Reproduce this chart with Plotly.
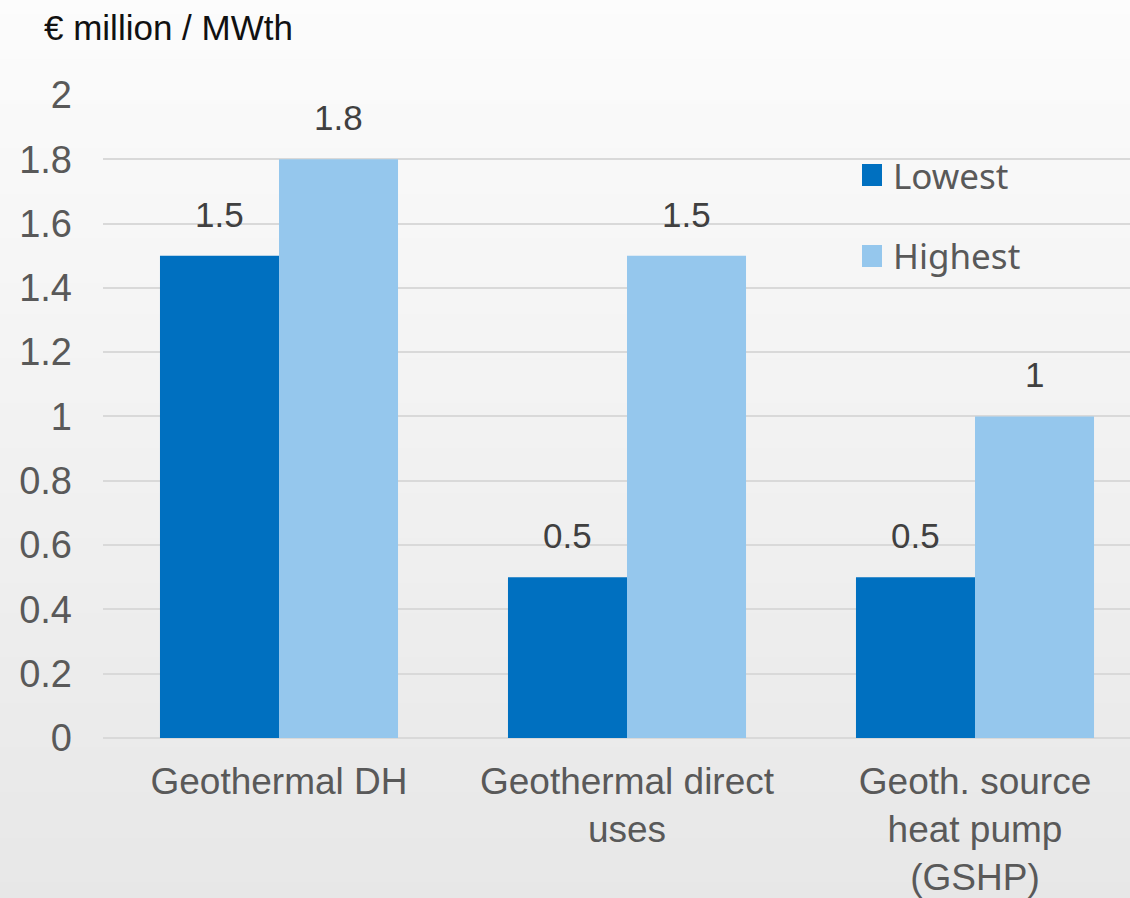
import plotly.graph_objects as go

# Capital cost ranges for geothermal heat applications
categories = ["Geothermal DH", "Geothermal direct<br>uses", "Geoth. source<br>heat pump<br>(GSHP)"]
series_names = ["Lowest", "Highest"]
lowest = [1.5, 0.5, 0.5]
highest = [1.8, 1.5, 1.0]
series_values = [lowest, highest]
series_colors = ["#0070C0", "#95C7ED"]
y_ticks = [0, 0.2, 0.4, 0.6, 0.8, 1, 1.2, 1.4, 1.6, 1.8, 2]
y_tick_text = ["0", "0.2", "0.4", "0.6", "0.8", "1", "1.2", "1.4", "1.6", "1.8", "2"]
unit_label = "€ million / MWth"

W, H = 1130, 898
Y_TOP = 2.003          # a hair above 2 so the top gridline is drawn
PX_PER_UNIT = 321.5    # vertical pixels per 1.0 on the value axis
ML, MR, MB = 103, 0, 160
plot_h = round(Y_TOP * PX_PER_UNIT)
MT = H - MB - plot_h
plot_w = W - ML - MR

BARGAP = 0.316
bar_w = (1 - BARGAP) / 2

fig = go.Figure()
for name, vals, col in zip(series_names, series_values, series_colors):
    fig.add_trace(go.Bar(
        name=name, x=list(range(len(categories))), y=vals,
        marker=dict(color=col, line=dict(width=0)),
        showlegend=False, hoverinfo="x+y",
    ))

# value labels above each bar
annotations = []
for k, vals in enumerate(series_values):
    off = (k - 0.5) * bar_w
    for i, v in enumerate(vals):
        annotations.append(dict(
            x=i + off, y=v, xref="x", yref="y", text=f"{v:g}",
            showarrow=False, yanchor="bottom", yshift=20,
            font=dict(family="Liberation Sans, Arial", size=35, color="#404040"),
        ))

# unit label at top left
annotations.append(dict(
    x=(42 - ML) / plot_w, y=(H - MB - 27) / plot_h, xref="paper", yref="paper",
    text=unit_label, showarrow=False, xanchor="left", yanchor="middle",
    font=dict(family="Liberation Sans, Arial", size=35, color="#111111"),
))

# legend: coloured squares with labels
shapes = []
legend_rows = [175, 256]
for name, col, yc in zip(series_names, series_colors, legend_rows):
    x0 = (862 - ML) / plot_w
    x1 = (882 - ML) / plot_w
    y0 = (H - MB - (yc + 11)) / plot_h
    y1 = (H - MB - (yc - 11)) / plot_h
    shapes.append(dict(type="rect", xref="paper", yref="paper",
                       x0=x0, x1=x1, y0=y0, y1=y1,
                       fillcolor=col, line=dict(width=0), layer="above"))
    annotations.append(dict(
        x=(891 - ML) / plot_w, y=(H - MB - yc) / plot_h, xref="paper", yref="paper",
        text=name, showarrow=False, xanchor="left", yanchor="middle",
        font=dict(family="Noto Sans, Open Sans", size=35, color="#595959"),
    ))

# soft vertical background gradient built from thin bands
n_bands = 60
top_c, bot_c = 0xFC, 0xE7
for b in range(n_bands):
    py0 = H * b / n_bands - 1
    py1 = H * (b + 1) / n_bands + 1
    t = (b + 0.5) / n_bands
    c = round(top_c + (bot_c - top_c) * t)
    shapes.append(dict(
        type="rect", xref="paper", yref="paper",
        x0=-ML / plot_w - 0.01, x1=(W - ML) / plot_w + 0.01,
        y0=(H - MB - py1) / plot_h, y1=(H - MB - py0) / plot_h,
        fillcolor=f"rgb({c},{c},{c})", line=dict(width=0), layer="below",
    ))

x_left = (279 - ML) / 348.0
fig.update_layout(
    width=W, height=H,
    margin=dict(l=ML, r=MR, t=MT, b=MB, pad=0, autoexpand=False),
    paper_bgcolor="#f0f0f0", plot_bgcolor="rgba(0,0,0,0)",
    barmode="group", bargap=BARGAP, bargroupgap=0,
    annotations=annotations, shapes=shapes,
    showlegend=False,
    font=dict(family="Liberation Sans, Arial", color="#595959"),
    xaxis=dict(
        tickmode="array", tickvals=list(range(len(categories))), ticktext=categories,
        range=[-x_left, -x_left + plot_w / 348.0],
        showgrid=False, zeroline=False, showline=False, ticks="",
        ticklabelstandoff=18, automargin=False,
        tickfont=dict(family="Liberation Sans, Arial", size=37, color="#595959"),
        fixedrange=True,
    ),
    yaxis=dict(
        range=[0, Y_TOP], tickvals=y_ticks, ticktext=y_tick_text,
        showgrid=True, gridcolor="#D9D9D9", gridwidth=2,
        zeroline=True, zerolinecolor="#D9D9D9", zerolinewidth=2,
        showline=False, ticks="", ticklabelstandoff=30, automargin=False,
        tickfont=dict(family="Liberation Sans, Arial", size=38, color="#595959"),
        fixedrange=True,
    ),
)

fig.write_html("out.html", config={"displayModeBar": False})
